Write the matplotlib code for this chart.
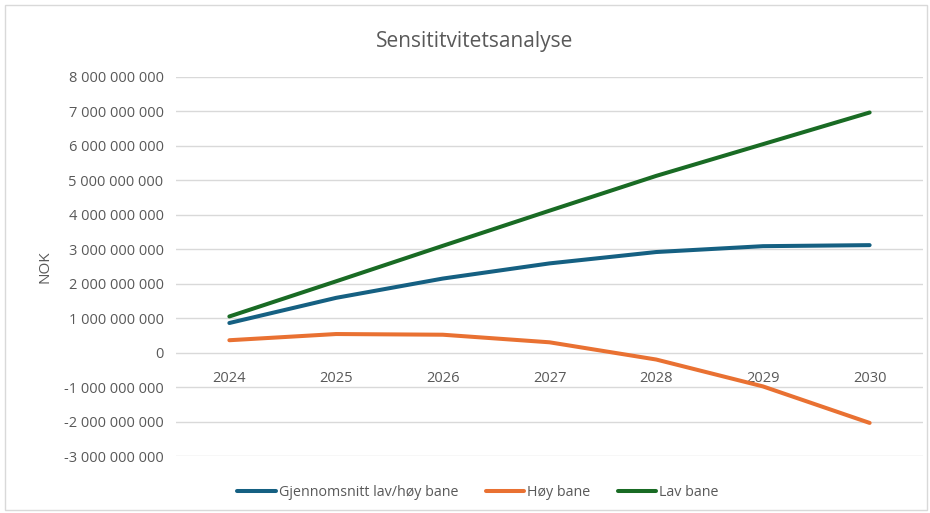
import matplotlib.pyplot as plt
from matplotlib.ticker import FuncFormatter, MultipleLocator
from matplotlib.patches import Rectangle

# data
years = ['2024', '2025', '2026', '2027', '2028', '2029', '2030']
snitt = [0.86e9, 1.59e9, 2.15e9, 2.59e9, 2.92e9, 3.09e9, 3.12e9]
hoy = [0.36e9, 0.54e9, 0.52e9, 0.30e9, -0.20e9, -0.98e9, -2.04e9]
lav = [1.05e9, 2.07e9, 3.10e9, 4.12e9, 5.13e9, 6.05e9, 6.97e9]

plt.rcParams['font.family'] = ['Open Sans', 'DejaVu Sans']
grey = '#595959'

fig = plt.figure(figsize=(9.3, 5.13), dpi=100)
ax = fig.add_axes([176 / 930, 1 - 456 / 513, (923 - 176) / 930, (456 - 77) / 513])

x = range(len(years))
ax.plot(x, snitt, color='#156082', lw=2.9, solid_capstyle='round', label='Gjennomsnitt lav/høy bane')
ax.plot(x, hoy, color='#E97132', lw=2.9, solid_capstyle='round', label='Høy bane')
ax.plot(x, lav, color='#196B24', lw=2.9, solid_capstyle='round', label='Lav bane')

ax.set_xlim(-0.5, len(years) - 0.5)
ax.set_ylim(-3e9, 8e9)
ax.yaxis.set_major_locator(MultipleLocator(1e9))
ax.yaxis.set_major_formatter(FuncFormatter(lambda v, p: f"{int(round(v)):,}".replace(',', ' ')))
ax.grid(axis='y', color='#d9d9d9', lw=1)
ax.set_axisbelow(True)

ax.set_xticks(list(x))
ax.set_xticklabels(years)
ax.spines['bottom'].set_position(('data', 0))
for s in ax.spines.values():
    s.set_visible(False)
ax.tick_params(axis='both', length=0, colors=grey, labelsize=10.5)
ax.tick_params(axis='x', pad=13)
ax.tick_params(axis='y', pad=9)

ax.set_ylabel('NOK', color=grey, fontsize=11, labelpad=8)
fig.text(475 / 930, 1 - 41 / 513, 'Sensititvitetsanalyse', ha='center', va='center',
         color=grey, fontsize=15)

fig.legend(loc='center', bbox_to_anchor=(478 / 930, 1 - 493 / 513), ncol=3, frameon=False,
           fontsize=10.3, labelcolor=grey, handlelength=2.7, handletextpad=0.2, columnspacing=1.9)

# chart area border
fig.patches.append(Rectangle((5 / 930, 3 / 513), 922 / 930, 505 / 513, transform=fig.transFigure,
                             fill=False, edgecolor='#d9d9d9', lw=1))

fig.savefig('out.png', dpi=100)
